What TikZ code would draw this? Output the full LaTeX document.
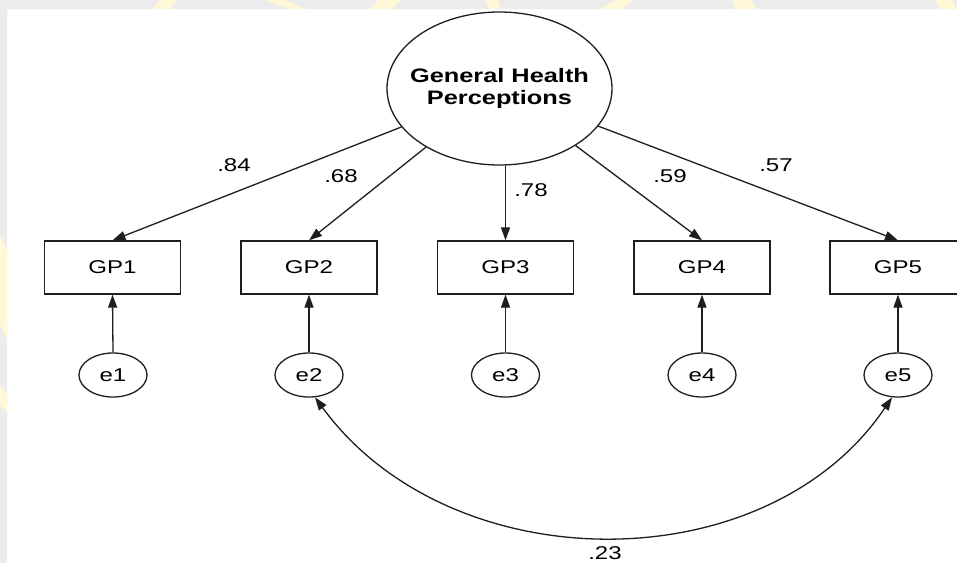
\documentclass[tikz,border=0pt]{standalone}
\usepackage{fontspec}
\usetikzlibrary{shapes.geometric,arrows.meta}
\newfontfamily\lblfont[FakeStretch=1.3]{Liberation Sans}
\definecolor{stripgray}{HTML}{EBECEB}
\definecolor{markyellow}{HTML}{FFF7D6}
\definecolor{inkline}{HTML}{1E1E1E}
\begin{document}
\begin{tikzpicture}[x=1pt,y=-1pt,
  every node/.style={font=\lblfont\fontsize{18.5}{20}\selectfont, text=black},
  latent/.style={draw=inkline, line width=1.3pt, ellipse, inner sep=0pt,
    minimum width=225pt, minimum height=153pt},
  title/.style={align=center, inner sep=0pt,
    font=\lblfont\bfseries\fontsize{19.5}{22}\selectfont},
  observed/.style={draw=inkline, line width=1.3pt, rectangle, inner sep=0pt,
    minimum width=136pt, minimum height=53pt},
  errterm/.style={draw=inkline, line width=1.3pt, ellipse, inner sep=0pt,
    minimum width=68pt, minimum height=44pt},
  path/.style={draw=inkline, line width=1.3pt,
    -{Triangle[length=13pt,width=9pt]}},
  covar/.style={draw=inkline, line width=1.3pt,
    {Triangle[length=13pt,width=9pt]}-{Triangle[length=13pt,width=9pt]}},
  coef/.style={inner sep=0pt}
]
\useasboundingbox (0,0) rectangle (957,563);

% page backdrop: grey strips with faint yellow marks
\fill[white] (0,0) rectangle (957,563);
\begin{scope}
  \clip (0,0) rectangle (957,9) (0,0) rectangle (7,563);
  \fill[stripgray] (0,0) rectangle (957,563);
  \fill[markyellow] (152,9) -- (160,0) -- (177,0) -- (170,9) -- cycle;
  \fill[markyellow] (265,0) -- (285,0) -- (306,9) -- (290,9) -- cycle;
  \fill[markyellow] (370,9) -- (378,0) -- (401,0) -- (392,9) -- cycle;
  \fill[markyellow] (485,0) -- (498,0) -- (501,9) -- (489,9) -- cycle;
  \fill[markyellow] (600,9) -- (616,0) -- (633,0) -- (622,9) -- cycle;
  \fill[markyellow] (732,0) -- (751,0) -- (757,9) -- (735,9) -- cycle;
  \fill[markyellow] (935,0) -- (952,0) -- (957,9) -- (940,9) -- cycle;
  \fill[markyellow] (0,235) -- (7,250) -- (7,340) -- (0,325) -- cycle;
  \fill[markyellow] (0,385) -- (7,395) -- (7,412) -- (0,405) -- cycle;
\end{scope}

% latent factor
\node[latent] (ghp) at (499.5,88.5) {};
\node[title] (ghpname) at (ghp.center) {General Health\\Perceptions};

% observed indicators
\node[observed] (gp1) at (112.5,267.5) {GP1};
\node[observed] (gp2) at (309,267.5) {GP2};
\node[observed] (gp3) at (505.5,267.5) {GP3};
\node[observed] (gp4) at (702,267.5) {GP4};
\node[observed] (gp5) at (898,267.5) {GP5};

% error terms
\node[errterm] (e1) at (113,375) {e1};
\node[errterm] (e2) at (309,375) {e2};
\node[errterm] (e3) at (505.5,375) {e3};
\node[errterm] (e4) at (702,375) {e4};
\node[errterm] (e5) at (898,375) {e5};

% factor loadings
\draw[path] (ghp) -- (gp1.north);
\draw[path] (ghp) -- (gp2.north);
\draw[path] (gp3.north |- ghp.south) -- (gp3.north);
\draw[path] (ghp) -- (gp4.north);
\draw[path] (ghp) -- (gp5.north);

\node[coef] (l1) at (234,165) {.84};
\node[coef] (l2) at (341,176) {.68};
\node[coef] (l3) at (531,190) {.78};
\node[coef] (l4) at (670,176) {.59};
\node[coef] (l5) at (776,165) {.57};

% error paths
\foreach \i in {1,...,5} {
  \draw[path] (e\i.north) -- (gp\i.south);
}

% error covariance
\draw[covar] (e2.-75) .. controls (451,583) and (767,583) .. (e5.-105);
\node[coef] (c25) at (605,553) {.23};
\end{tikzpicture}
\end{document}
